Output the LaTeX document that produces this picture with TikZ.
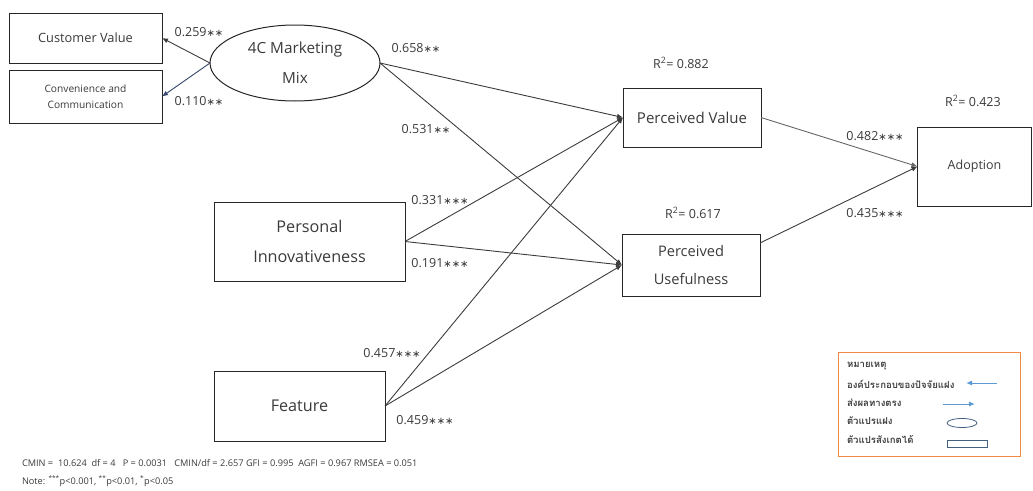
\documentclass[tikz,border=0pt]{standalone}
\usepackage{fontspec}
\setmainfont{Open Sans}
\newfontfamily\thaifont[Script=Thai]{Loma}
\newfontfamily\astfont{DejaVu Sans}
\usetikzlibrary{shapes.geometric,arrows.meta,calc}
\definecolor{ink}{HTML}{3A3A3A}
\definecolor{edge}{HTML}{3C3C3C}
\definecolor{navy}{HTML}{34466A}
\definecolor{legblue}{HTML}{5B9BD5}
\definecolor{legline}{HTML}{44607F}
\definecolor{legframe}{HTML}{EE8A45}
% significance stars
\newcommand{\stars}[1]{{\astfont\fontsize{10}{12}\selectfont #1}}
\begin{document}
\begin{tikzpicture}[x=1pt,y=-1pt,
  every node/.style={text=ink, inner sep=0pt, outer sep=0pt},
  obsbox/.style={draw=black!85, line width=1pt, rectangle, align=center},
  latent/.style={draw=black!85, line width=1pt, ellipse, align=center},
  path/.style={draw=edge, line width=0.9pt, -{Latex[length=6pt,width=5pt]}},
  coef/.style={font=\fontsize{12.5}{14}\selectfont},
  rsq/.style={font=\fontsize{12.5}{14}\selectfont},
  legtext/.style={anchor=west, font=\thaifont\fontsize{9.6}{11}\selectfont\bfseries, text=black!75}
]
\useasboundingbox (0,0) rectangle (1033,490);

% observed indicators of the latent factor
\node[obsbox, minimum width=153, minimum height=50, font=\fontsize{12.8}{15}\selectfont] (cv) at (85.5,38) {Customer Value};
\node[obsbox, minimum width=153, minimum height=53, font=\fontsize{10.2}{16}\selectfont] (cc) at (85.5,96.5) {Convenience and\\Communication};

% latent factor
\node[latent, minimum width=170, minimum height=76, font=\fontsize{15.3}{30}\selectfont] (mk) at (295,63) {4C Marketing\\Mix};

% constructs
\node[obsbox, minimum width=191, minimum height=79, font=\fontsize{16.2}{30}\selectfont] (pi) at (309.5,241.5) {Personal\\Innovativeness};
\node[obsbox, minimum width=171, minimum height=70, font=\fontsize{16.2}{18}\selectfont] (fe) at (299.5,406) {Feature};
\node[obsbox, minimum width=138, minimum height=59, font=\fontsize{15}{17}\selectfont] (pv) at (692,117.5) {Perceived Value};
\node[obsbox, minimum width=138, minimum height=62, font=\fontsize{14.6}{28}\selectfont] (pu) at (691,265) {Perceived\\Usefulness};
\node[obsbox, minimum width=114, minimum height=79, font=\fontsize{12.5}{15}\selectfont] (ad) at (974.5,166.5) {Adoption};

% factor loadings
\draw[path] (mk.west) -- (cv.east);
\draw[path, draw=navy] (mk.west) -- (cc.east);

% structural paths
\draw[path] (mk.east) -- (pv.west);
\draw[path] (mk.east) -- (pu.west);
\draw[path] (pi.east) -- (pv.west);
\draw[path] (pi.east) -- (pu.west);
\draw[path] (fe.east) -- (pv.west);
\draw[path] (fe.east) -- (pu.west);
\draw[path, draw=black!60] (pv.east) -- (ad.west);
\draw[path] ([yshift=22pt]pu.east) -- (ad.west);

% path coefficients
\node[coef] (c1) at (199,32) {0.259\stars{∗∗}};
\node[coef] (c2) at (199,101) {0.110\stars{∗∗}};
\node[coef] (c3) at (416,48) {0.658\stars{∗∗}};
\node[coef] (c4) at (426,129) {0.531\stars{∗∗}};
\node[coef] (c5) at (440,200) {0.331\stars{∗∗∗}};
\node[coef] (c6) at (440,263) {0.191\stars{∗∗∗}};
\node[coef] (c7) at (392,353) {0.457\stars{∗∗∗}};
\node[coef] (c8) at (425,420) {0.459\stars{∗∗∗}};
\node[coef] (c9) at (875,136) {0.482\stars{∗∗∗}};
\node[coef] (c10) at (875,213) {0.435\stars{∗∗∗}};

% explained variance
\node[rsq] (r1) at (681,63) {R\textsuperscript{2}= 0.882};
\node[rsq] (r2) at (693,213) {R\textsuperscript{2}= 0.617};
\node[rsq] (r3) at (973,101) {R\textsuperscript{2}= 0.423};

% fit indices
\node[anchor=west, font=\fontsize{9.2}{11}\selectfont] (fit) at (22,463)
  {CMIN =\ \ 10.624\ \ df = 4\ \ \ P = 0.0031\ \ \ CMIN/df = 2.657 GFI = 0.995\ \ AGFI = 0.967 RMSEA = 0.051};
\node[anchor=west, font=\fontsize{9.2}{11}\selectfont] (note) at (22,481)
  {Note: \textsuperscript{***}p<0.001, \textsuperscript{**}p<0.01, \textsuperscript{*}p<0.05};

% legend
\node[draw=legframe, line width=0.8pt, minimum width=182, minimum height=104] (leg) at (929,404) {};
\node[legtext] (l0) at (847,366) {หมายเหตุ};
\node[legtext] (l1) at (847,384) {องค์ประกอบของปัจจัยแฝง};
\node[legtext] (l2) at (847,403) {ส่งผลทางตรง};
\node[legtext] (l3) at (847,421) {ตัวแปรแฝง};
\node[legtext] (l4) at (847,440) {ตัวแปรสังเกตได้};
\coordinate (a1s) at (997,383);
\coordinate (a1e) at (966,383);
\coordinate (a2s) at (943,404);
\coordinate (a2e) at (975,404);
\draw[legblue, line width=1pt, -{Latex[length=6pt,width=5pt]}] (a1s) -- (a1e);
\draw[legblue, line width=1pt, -{Latex[length=6pt,width=5pt]}] (a2s) -- (a2e);
\node[draw=legline, line width=0.8pt, ellipse, minimum width=30, minimum height=9] (lell) at (962,423) {};
\node[draw=legline, line width=0.8pt, rectangle, minimum width=40, minimum height=7] (lrect) at (967,443.5) {};
\end{tikzpicture}
\end{document}
